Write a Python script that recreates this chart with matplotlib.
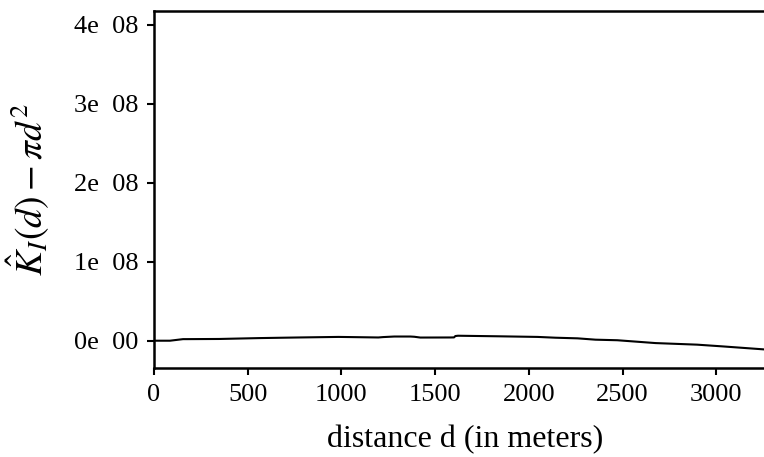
import numpy as np
import matplotlib
matplotlib.use('Agg')
import matplotlib.pyplot as plt

# values
distance = [0, 85, 113, 155, 176, 347, 559, 690, 772, 984, 1047, 1197,
            1223, 1282, 1368, 1389, 1421, 1581, 1601, 1608, 1622, 1835,
            2047, 2142, 2260, 2356, 2472, 2676, 2898, 3034, 3255]
k_minus_pi = [0.0, 0.0, 0.8e6, 2.0e6, 2.0e6, 2.2e6, 3.3e6, 3.8e6, 4.1e6,
              4.8e6, 4.6e6, 4.1e6, 4.6e6, 5.3e6, 5.3e6, 5.0e6, 4.0e6,
              4.1e6, 4.2e6, 5.9e6, 6.3e6, 5.6e6, 4.8e6, 3.8e6, 3.0e6,
              1.3e6, 0.6e6, -3.0e6, -5.0e6, -7.2e6, -11.0e6]

ytick_vals = [0, 1e8, 2e8, 3e8, 4e8]
ytick_labels = ['0e  00', '1e  08', '2e  08', '3e  08', '4e  08']
xtick_vals = [0, 500, 1000, 1500, 2000, 2500, 3000]

plt.rcParams['font.family'] = ['Liberation Serif', 'DejaVu Serif']
plt.rcParams['mathtext.fontset'] = 'stix'

fig = plt.figure(figsize=(7.64, 4.57), dpi=100)
ax = fig.add_axes([0.2016, 0.194, 0.7984, 0.7826])

ax.plot(distance, k_minus_pi, color='black', linewidth=1.5)

ax.set_xlim(0, 3255)
ax.set_ylim(-0.35e8, 4.18e8)
ax.set_xticks(xtick_vals)
ax.set_xticklabels([str(v) for v in xtick_vals])
ax.set_yticks(ytick_vals)
ax.set_yticklabels(ytick_labels)

ax.spines['right'].set_visible(False)
for side in ['left', 'bottom', 'top']:
    ax.spines[side].set_linewidth(1.8)

ax.tick_params(direction='out', length=5, width=1.5, labelsize=19, pad=6)

ax.set_xlabel('distance d (in meters)', fontsize=23)
ax.xaxis.set_label_coords(0.51, -0.158)
ax.set_ylabel(r'$\hat{K}_I(d) - \pi d^2$', fontsize=27)
ax.yaxis.set_label_coords(-0.167, 0.50)

plt.savefig('out.png', dpi=100)
